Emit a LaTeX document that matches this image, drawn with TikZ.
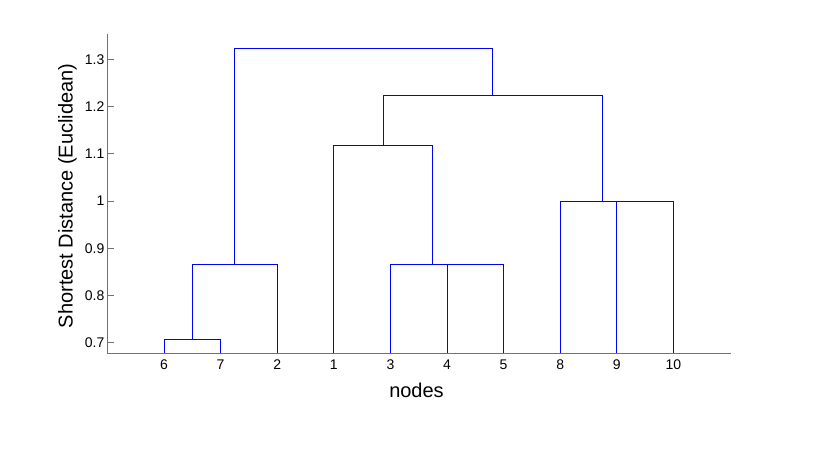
\documentclass[tikz,border=0pt]{standalone}
\usepackage{fontspec}
\setmainfont{Liberation Sans}
\begin{document}
\begin{tikzpicture}[x=1pt,y=-1pt,
  axisline/.style={draw=black!55,line width=1pt},
  link/.style={draw=blue,line width=1pt},
  ticklbl/.style={inner sep=0pt,font=\fontsize{14}{16}\selectfont},
  axlbl/.style={inner sep=0pt,font=\fontsize{20}{22}\selectfont}]
\useasboundingbox[fill=white] (0,0) rectangle (831,455);
% axes
\coordinate (org) at (107,353);
\coordinate (ytop) at (107,34);
\coordinate (xend) at (731,353);
\draw[axisline] (ytop) -- (org) -- (xend);
\foreach \v/\lab in {0.7/0.7,0.8/0.8,0.9/0.9,1.0/1,1.1/1.1,1.2/1.2,1.3/1.3}{
  \pgfmathsetmacro{\yy}{673.1-472*\v}
  \draw[axisline] (107,\yy) -- (114,\yy);
  \node[ticklbl,anchor=east] (yl\lab) at (104.5,\yy) {\lab};
}
% dendrogram in data coordinates
\begin{scope}[shift={(107.4pt,-673.1pt)},x=56.6pt,y=472pt]
\foreach \n/\p in {6/1,7/2,2/3,1/4,3/5,4/6,5/7,8/8,9/9,10/10}{
  \coordinate (n\n) at (\p,0.6782);
}
\coordinate (a) at (1.5,0.7071);
\coordinate (b) at (2.25,0.8660);
\coordinate (c) at (6.5,0.8660);
\coordinate (d) at (5.75,0.8660);
\coordinate (e) at (4.875,1.1180);
\coordinate (f) at (9.5,1.0);
\coordinate (g) at (8.75,1.0);
\coordinate (h) at (6.8125,1.2247);
\coordinate (r) at (4.53125,1.3229);
\draw[link] (n6) |- (a) -| (n7);
\draw[link] (a) |- (b) -| (n2);
\draw[link] (n4) |- (c) -| (n5);
\draw[link] (n3) |- (d) -| (c);
\draw[link] (n1) |- (e) -| (d);
\draw[link] (n9) |- (f) -| (n10);
\draw[link] (n8) |- (g) -| (f);
\draw[link] (e) |- (h) -| (g);
\draw[link] (b) |- (r) -| (h);
\end{scope}
% leaf labels
\foreach \n/\p in {6/1,7/2,2/3,1/4,3/5,4/6,5/7,8/8,9/9,10/10}{
  \node[ticklbl,anchor=base] (xl\n) at ({107.4+56.6*\p},369.5) {\n};
}
\node[axlbl,anchor=base] (xlabel) at (416.5,397) {nodes};
\node[axlbl,anchor=base,rotate=90] (ylabel) at (72.5,195.8) {Shortest Distance (Euclidean)};
\end{tikzpicture}
\end{document}
